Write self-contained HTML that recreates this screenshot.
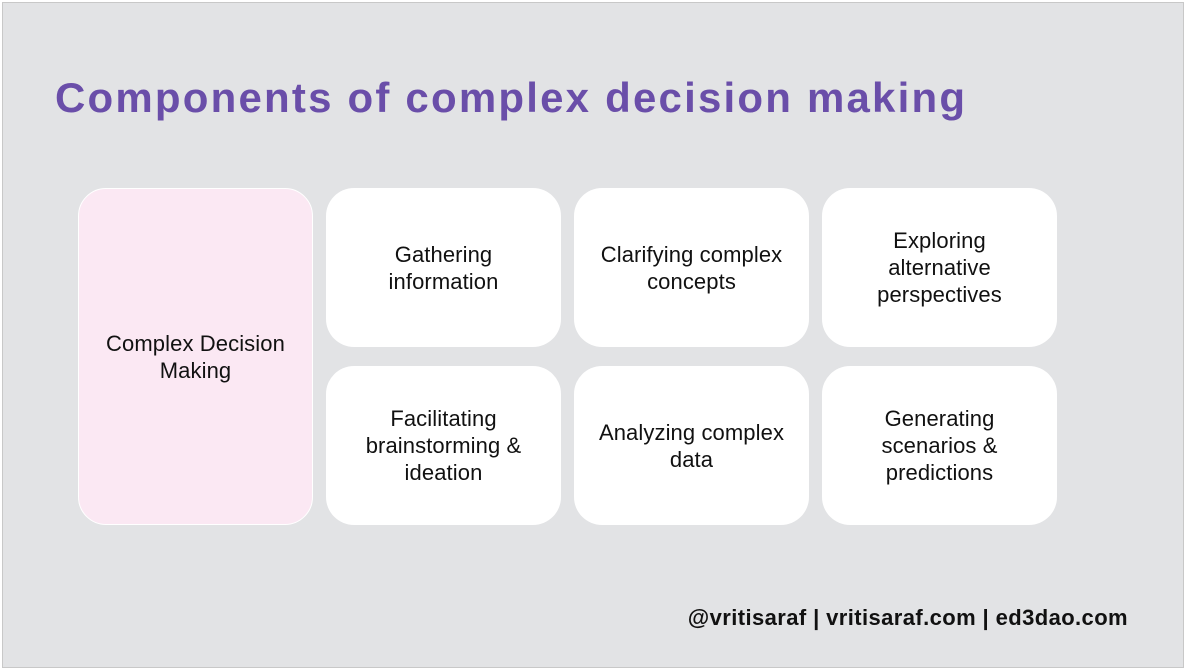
<!DOCTYPE html>
<html><head><style>
body{margin:0;width:1185px;height:671px;background:#fff;position:relative;overflow:hidden;font-family:"Liberation Sans",Arial,sans-serif}
#bg{position:absolute;left:2px;top:2px;width:1180px;height:664px;background:#e2e3e5;border:1px solid #c8c8c8}
h1{position:absolute;left:55px;top:74px;margin:0;font-size:42px;font-weight:bold;color:#6a4ea9;letter-spacing:2.2px;white-space:nowrap}
.b{position:absolute;background:#fff;border-radius:28px;display:flex;align-items:center;justify-content:center;text-align:center;font-size:22px;letter-spacing:0.1px;line-height:27px;color:#111;box-sizing:border-box;padding:0 8px}
.p{background:#fbe8f3;border:1.5px solid #fff}
.f{position:absolute;right:57px;top:605px;font-size:22px;letter-spacing:0.4px;font-weight:bold;color:#111;white-space:nowrap}
</style></head><body>
<div id="bg"></div>
<h1>Components of complex decision making</h1>
<div class="b p" style="left:78px;top:188px;width:235px;height:337px">Complex Decision Making</div>
<div class="b" style="left:326px;top:188px;width:235px;height:159px">Gathering<br>information</div>
<div class="b" style="left:574px;top:188px;width:235px;height:159px">Clarifying complex<br>concepts</div>
<div class="b" style="left:822px;top:188px;width:235px;height:159px">Exploring<br>alternative<br>perspectives</div>
<div class="b" style="left:326px;top:366px;width:235px;height:159px">Facilitating<br>brainstorming &amp;<br>ideation</div>
<div class="b" style="left:574px;top:366px;width:235px;height:159px">Analyzing complex<br>data</div>
<div class="b" style="left:822px;top:366px;width:235px;height:159px">Generating<br>scenarios &amp;<br>predictions</div>
<div class="f">@vritisaraf | vritisaraf.com | ed3dao.com</div>
</body></html>
